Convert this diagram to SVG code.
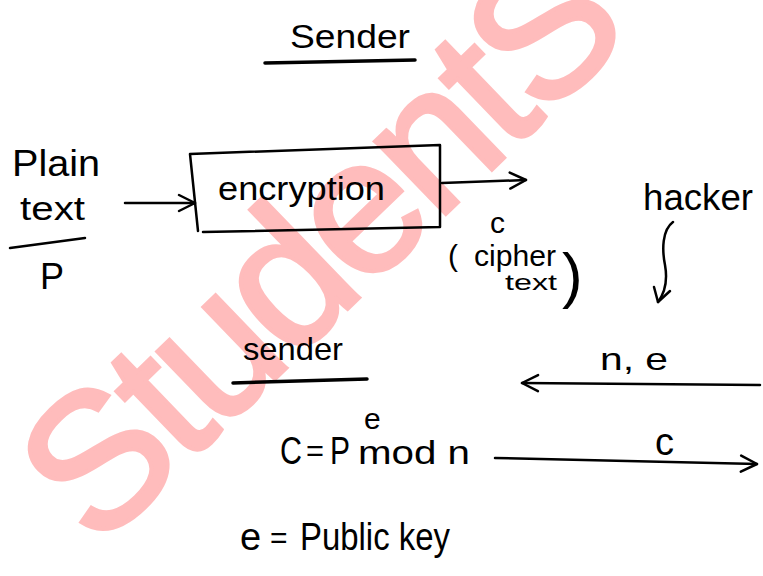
<svg xmlns="http://www.w3.org/2000/svg" width="763" height="576" viewBox="0 0 763 576">
<style>
.ink{font-family:"Liberation Sans","DejaVu Sans",sans-serif;fill:#000;}
.ln{stroke:#000;stroke-width:2.5;fill:none;stroke-linecap:round;stroke-linejoin:round;}
.ul{stroke:#000;stroke-width:3.5;fill:none;stroke-linecap:round;}
.wm{font-family:"Liberation Sans","DejaVu Sans",sans-serif;font-size:192px;letter-spacing:-6px;fill:#ffbcbc;stroke:#ffbcbc;stroke-width:4;}
</style>
<defs>
<marker id="ah" viewBox="0 0 20 20" refX="18" refY="10" markerWidth="20" markerHeight="20" markerUnits="userSpaceOnUse" orient="auto">
<path d="M2,2 L18,10 L2,18" fill="none" stroke="#000" stroke-width="2.5" stroke-linecap="round" stroke-linejoin="round"/>
</marker>
</defs>
<rect width="763" height="576" fill="#fff"/>
<text class="wm" transform="translate(97,551) rotate(-44)">StudentS</text>

<g id="sender-top">
<text class="ink" x="290" y="48" font-size="34" textLength="120" lengthAdjust="spacingAndGlyphs">Sender</text>
<path class="ul" d="M265,63 L415,60"/>
</g>

<g id="plaintext">
<text class="ink" x="12" y="176" font-size="36" textLength="88" lengthAdjust="spacingAndGlyphs">Plain</text>
<text class="ink" x="20" y="220" font-size="34" textLength="65" lengthAdjust="spacingAndGlyphs">text</text>
<path class="ln" d="M10,248 L85,238"/>
<text class="ink" x="40" y="289" font-size="36">P</text>
</g>

<g id="encryption">
<path class="ln" d="M190,154 L440,145 L440,227 L203,232 M190,154 L198,231" stroke-width="3"/>
<text class="ink" x="218" y="200" font-size="34" textLength="167" lengthAdjust="spacingAndGlyphs">encryption</text>
</g>

<g id="ciphertext">
<text class="ink" x="490" y="233" font-size="30">c</text>
<text class="ink" x="448" y="266" font-size="30">(</text>
<text class="ink" x="474" y="266" font-size="30" textLength="82" lengthAdjust="spacingAndGlyphs">cipher</text>
<text class="ink" x="505" y="290" font-size="22" textLength="52" lengthAdjust="spacingAndGlyphs">text</text>
<text class="ink" x="562" y="296" font-size="62">)</text>
</g>

<g id="hacker">
<text class="ink" x="643" y="210" font-size="36" textLength="110" lengthAdjust="spacingAndGlyphs">hacker</text>
</g>

<g id="sender-bottom">
<text class="ink" x="243" y="360" font-size="32" textLength="100" lengthAdjust="spacingAndGlyphs">sender</text>
<path class="ul" d="M233,383 L367,379" stroke-width="3"/>
</g>

<g id="equation">
<text class="ink" x="280" y="464" font-size="38" textLength="22" lengthAdjust="spacingAndGlyphs">C</text>
<text class="ink" x="306" y="461" font-size="30" textLength="18" lengthAdjust="spacingAndGlyphs">=</text>
<text class="ink" x="330" y="464" font-size="38" textLength="20" lengthAdjust="spacingAndGlyphs">P</text>
<text class="ink" x="364" y="429" font-size="30">e</text>
<text class="ink" x="358" y="464" font-size="34" textLength="112" lengthAdjust="spacingAndGlyphs">mod n</text>
</g>

<g id="public-key">
<text class="ink" x="240" y="550" font-size="38">e</text>
<text class="ink" x="270" y="548" font-size="30">=</text>
<text class="ink" x="300" y="550" font-size="38" textLength="150" lengthAdjust="spacingAndGlyphs">Public key</text>
</g>

<g id="connectors">
<path class="ln" d="M125,203 L195,203" marker-end="url(#ah)"/>
<path class="ln" d="M442,183 L526,180" marker-end="url(#ah)"/>
<path class="ln" d="M673,222 C662,230 662,250 665,265 C668,282 664,294 658,302"/>
<path class="ln" d="M654,287 L658,302 L670,291"/>
<path class="ln" d="M760,385 L522,383" marker-end="url(#ah)"/>
<text class="ink" x="600" y="370" font-size="32" textLength="68" lengthAdjust="spacingAndGlyphs">n, e</text>
<path class="ln" d="M495,458 L757,464" marker-end="url(#ah)"/>
<text class="ink" x="655" y="455" font-size="38">c</text>
</g>
</svg>
